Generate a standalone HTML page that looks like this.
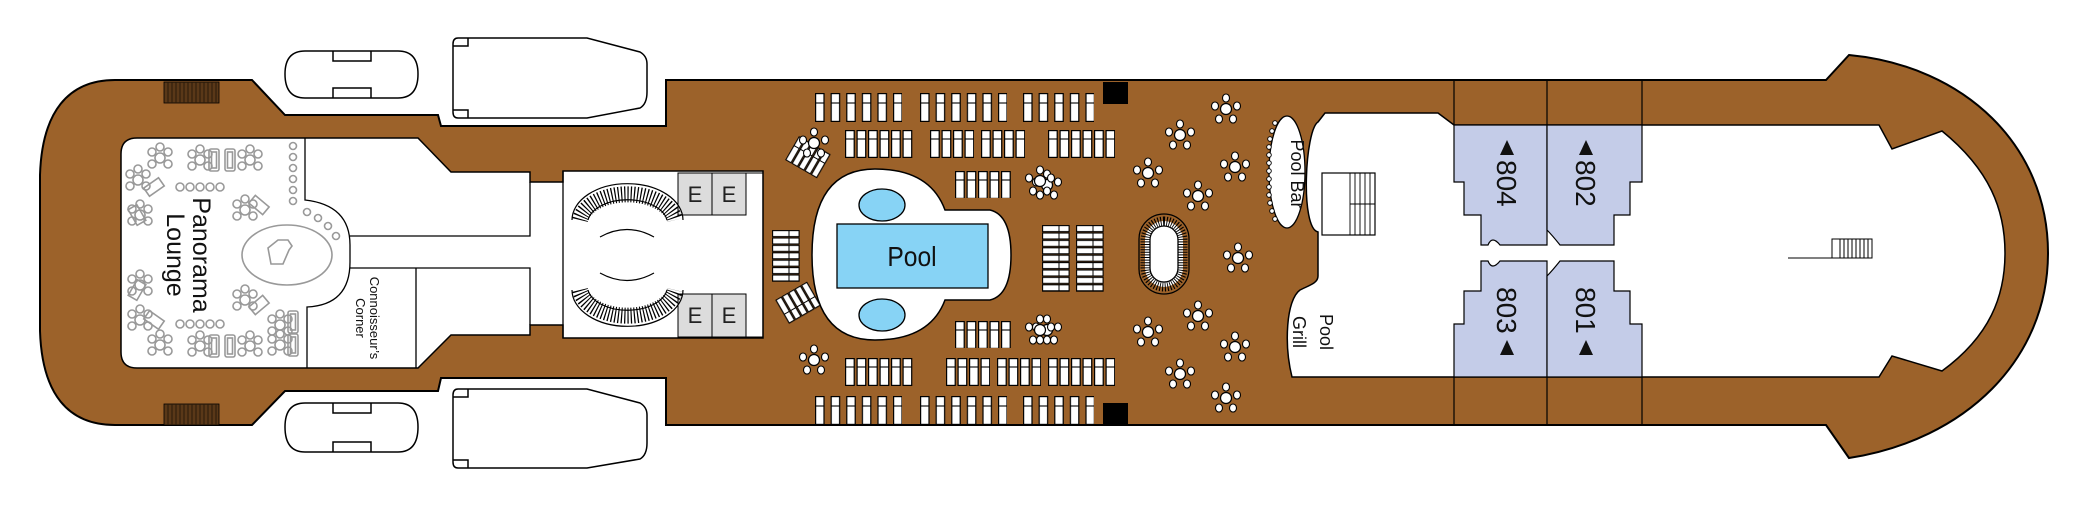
<!DOCTYPE html>
<html><head><meta charset="utf-8"><style>
html,body{margin:0;padding:0;background:#fff}
svg{display:block}
text{font-family:"Liberation Sans",sans-serif}
</style></head><body>
<svg width="2078" height="515" viewBox="0 0 2078 515" xmlns="http://www.w3.org/2000/svg">
<defs>
<pattern id="L1" patternUnits="userSpaceOnUse" width="15.6" height="29" x="0" y="0">
<rect x="0.6" y="0.6" width="8.4" height="27.8" fill="#fff" stroke="#000" stroke-width="1.2"/>
<line x1="0.6" y1="10" x2="9" y2="10" stroke="#000" stroke-width="1.1"/>
</pattern>
<pattern id="L2" patternUnits="userSpaceOnUse" width="11.5" height="28" x="0" y="0">
<rect x="0.6" y="0.6" width="8.6" height="26.8" fill="#fff" stroke="#000" stroke-width="1.2"/>
<line x1="0.6" y1="9" x2="9.2" y2="9" stroke="#000" stroke-width="1.1"/>
</pattern>
<pattern id="LH" patternUnits="userSpaceOnUse" width="28" height="7.4" x="0" y="0">
<rect x="0.6" y="0.6" width="26.5" height="6" fill="#fff" stroke="#000" stroke-width="1.1"/>
<line x1="17" y1="0.6" x2="17" y2="6.6" stroke="#000" stroke-width="1"/>
</pattern>
<g id="tb">
<circle cx="0" cy="0" r="5.5" fill="#fff" stroke="#000" stroke-width="1.2"/>
<ellipse cx="0" cy="-11" rx="3.5" ry="4" fill="#fff" stroke="#000" stroke-width="1.1"/>
<ellipse cx="11" cy="-3" rx="3.5" ry="4" fill="#fff" stroke="#000" stroke-width="1.1"/>
<ellipse cx="7" cy="10" rx="3.5" ry="4" fill="#fff" stroke="#000" stroke-width="1.1"/>
<ellipse cx="-7" cy="10" rx="3.5" ry="4" fill="#fff" stroke="#000" stroke-width="1.1"/>
<ellipse cx="-11" cy="-3" rx="3.5" ry="4" fill="#fff" stroke="#000" stroke-width="1.1"/>
</g>
<g id="gc" fill="none" stroke="#999" stroke-width="1.6">
<circle cx="0" cy="0" r="5"/><circle cx="-8" cy="-6" r="4"/><circle cx="8" cy="-6" r="4"/><circle cx="-8" cy="6" r="4"/><circle cx="8" cy="6" r="4"/><circle cx="0" cy="-11" r="4"/>
</g>
<g id="gs" fill="none" stroke="#999" stroke-width="1.6">
<rect x="-5" y="-11" width="10" height="22" rx="2"/><rect x="-2.5" y="-8" width="5" height="16"/>
</g>
</defs>

<!-- lifeboats -->
<g fill="#fff" stroke="#000" stroke-width="1.5">
<path d="M305,51 L398,51 Q418,51 418,74 Q418,98 398,98 L305,98 Q285,98 285,74 Q285,51 305,51 Z"/>
<path d="M333,51 v10 h38 v-10 M333,98 v-10 h38 v10" fill="none"/>
<path d="M305,403 L398,403 Q418,403 418,427 Q418,452 398,452 L305,452 Q285,452 285,427 Q285,403 305,403 Z"/>
<path d="M333,403 v10 h38 v-10 M333,452 v-10 h38 v10" fill="none"/>
<path d="M458,38 L587,38 L640,52 Q647,56 647,64 L647,92 Q647,104 640,108 L587,118 L458,118 Q453,118 453,112 L453,44 Q453,38 458,38 Z"/>
<path d="M453,46 h15 v-8 M453,110 h15 v8" fill="none"/>
<path d="M458,389 L587,389 L640,403 Q647,407 647,415 L647,443 Q647,455 640,459 L587,468 L458,468 Q453,468 453,462 L453,395 Q453,389 458,389 Z"/>
<path d="M453,397 h15 v-8 M453,460 h15 v8" fill="none"/>
</g>

<!-- hull -->
<path d="M252,80 L115,80 C68,80 42,112 40,175 L40,331 C42,394 68,425 115,425 L252,425 L285,391 L438,391 L441,378 L666,378 L666,425 L1826,425 L1849,458 C1965,440 2048,360 2048,253 C2048,146 1965,66 1849,55 L1826,80 L666,80 L666,126 L441,126 L438,115 L285,115 Z" fill="#9c622a" stroke="#000" stroke-width="2"/>

<!-- stern grates -->
<g fill="#5a3818" stroke="#000" stroke-width="0.8">
<rect x="164" y="82" width="55" height="21"/><rect x="164" y="404" width="55" height="21"/>
</g>
<g stroke="#2a1a0a" stroke-width="1">
<path d="M168,82v21M172,82v21M176,82v21M180,82v21M184,82v21M188,82v21M192,82v21M196,82v21M200,82v21M204,82v21M208,82v21M212,82v21M216,82v21"/>
<path d="M168,404v21M172,404v21M176,404v21M180,404v21M184,404v21M188,404v21M192,404v21M196,404v21M200,404v21M204,404v21M208,404v21M212,404v21M216,404v21"/>
</g>

<!-- black squares -->
<rect x="1103" y="82" width="25" height="22" fill="#000"/>
<rect x="1103" y="403" width="25" height="22" fill="#000"/>

<!-- stern interior -->
<path d="M137,138 L418,138 L451,172 L530,172 L530,182 L563,182 L563,171 L763,171 L763,338 L563,338 L563,325 L530,325 L530,335 L451,335 L418,368 L137,368 Q121,368 121,352 L121,154 Q121,138 137,138 Z" fill="#fff" stroke="#000" stroke-width="1.5"/>
<path d="M305,138 L305,200 Q350,205 350,245 L350,262 Q350,305 307,307 L307,368 M350,236 L530,236 L530,182 M350,268 L530,268 L530,325 M416,268 L416,368 M563,171 L563,338" fill="none" stroke="#000" stroke-width="1.3"/>

<!-- lounge furniture -->
<g>
<use href="#gc" x="160" y="158"/><use href="#gc" x="200" y="160"/><use href="#gs" x="214" y="160"/><use href="#gs" x="230" y="160"/><use href="#gc" x="250" y="160"/>
<use href="#gc" x="138" y="180"/><use href="#gc" x="140" y="215"/><use href="#gc" x="140" y="285"/><use href="#gc" x="140" y="320"/>
<use href="#gc" x="160" y="345"/><use href="#gc" x="200" y="346"/><use href="#gs" x="214" y="346"/><use href="#gs" x="230" y="346"/><use href="#gc" x="250" y="346"/>
<use href="#gc" x="245" y="210"/><use href="#gc" x="245" y="300"/><use href="#gc" x="280" y="325"/><use href="#gc" x="280" y="345"/>
<use href="#gs" x="293" y="322"/><use href="#gs" x="293" y="345"/>
</g>
<g fill="none" stroke="#999" stroke-width="1.6">
<circle cx="180" cy="187" r="4"/><circle cx="190" cy="187" r="4"/><circle cx="200" cy="187" r="4"/><circle cx="210" cy="187" r="4"/><circle cx="220" cy="187" r="4"/>
<circle cx="180" cy="324" r="4"/><circle cx="190" cy="324" r="4"/><circle cx="200" cy="324" r="4"/><circle cx="210" cy="324" r="4"/><circle cx="220" cy="324" r="4"/>
<rect x="145" y="182" width="18" height="10" transform="rotate(-35 154 187)"/>
<rect x="128" y="210" width="18" height="10" transform="rotate(60 137 215)"/>
<rect x="128" y="285" width="18" height="10" transform="rotate(-60 137 290)"/>
<rect x="145" y="315" width="18" height="10" transform="rotate(35 154 320)"/>
<rect x="250" y="200" width="18" height="10" transform="rotate(40 259 205)"/>
<rect x="250" y="300" width="18" height="10" transform="rotate(-40 259 305)"/>
<ellipse cx="287" cy="255" rx="45" ry="30"/>
<path d="M268,248 l10,-8 h10 l4,6 l-3,4 l-6,14 h-12 z"/>
<circle cx="293" cy="146" r="3.5"/><circle cx="293" cy="157" r="3.5"/><circle cx="293" cy="168" r="3.5"/><circle cx="293" cy="179" r="3.5"/><circle cx="293" cy="190" r="3.5"/><circle cx="293" cy="201" r="3.5"/>
<circle cx="307" cy="212" r="3.5"/><circle cx="318" cy="218" r="3.5"/><circle cx="328" cy="226" r="3.5"/><circle cx="336" cy="236" r="3.5"/>
</g>

<!-- E section -->
<rect x="678" y="173" width="34" height="42" fill="#dcdcdc" stroke="#000" stroke-width="1"/>
<rect x="712" y="173" width="34" height="42" fill="#dcdcdc" stroke="#000" stroke-width="1"/>
<rect x="678" y="294" width="34" height="43" fill="#dcdcdc" stroke="#000" stroke-width="1"/>
<rect x="712" y="294" width="34" height="43" fill="#dcdcdc" stroke="#000" stroke-width="1"/>
<line x1="746" y1="173" x2="763" y2="173" stroke="#000"/><line x1="746" y1="337" x2="763" y2="337" stroke="#000"/>
<g font-size="22" text-anchor="middle" fill="#222">
<text x="695" y="202">E</text><text x="729" y="202">E</text><text x="695" y="323">E</text><text x="729" y="323">E</text>
</g>
<!-- staircases -->
<g fill="none" stroke="#000">
<path d="M580,220 A48,30 0 0 1 675,220" stroke-width="16" stroke-dasharray="1.2 2"/>
<path d="M572,220 A55,36 0 0 1 683,220 M588,220 A40,24 0 0 1 667,220" stroke-width="1.2"/>
<path d="M600,237 Q627,222 654,237" stroke-width="1.2"/>
<path d="M580,290 A48,30 0 0 0 675,290" stroke-width="16" stroke-dasharray="1.2 2"/>
<path d="M572,290 A55,36 0 0 0 683,290 M588,290 A40,24 0 0 0 667,290" stroke-width="1.2"/>
<path d="M600,273 Q627,288 654,273" stroke-width="1.2"/>
</g>

<!-- pool area -->
<path d="M875,169 Q930,169 945,210 L990,210 Q1011,215 1011,255 Q1011,295 990,300 L945,300 Q930,340 875,340 Q812,340 812,255 Q812,169 875,169 Z" fill="#fff" stroke="#000" stroke-width="1.5"/>
<rect x="837" y="224" width="151" height="64" fill="#87d3f5" stroke="#000" stroke-width="1.3"/>
<ellipse cx="882" cy="205" rx="23" ry="16" fill="#87d3f5" stroke="#000" stroke-width="1.3"/>
<ellipse cx="882" cy="315" rx="23" ry="16" fill="#87d3f5" stroke="#000" stroke-width="1.3"/>
<text x="912" y="266" font-size="28" text-anchor="middle" fill="#111" transform="translate(912 0) scale(0.88 1) translate(-912 0)">Pool</text>

<!-- loungers top -->
<g transform="translate(815,93)"><rect width="87" height="29" fill="url(#L1)"/></g>
<g transform="translate(920,93)"><rect width="87" height="29" fill="url(#L1)"/></g>
<g transform="translate(1023,93)"><rect width="71" height="29" fill="url(#L1)"/></g>
<g transform="translate(845,130)"><rect width="68" height="28" fill="url(#L2)"/></g>
<g transform="translate(930,130)"><rect width="44" height="28" fill="url(#L2)"/></g>
<g transform="translate(981,130)"><rect width="44" height="28" fill="url(#L2)"/></g>
<g transform="translate(1048,130)"><rect width="67" height="28" fill="url(#L2)"/></g>
<g transform="translate(955,171)"><rect width="56" height="27" fill="url(#L2)"/></g>
<!-- loungers bottom -->
<g transform="translate(815,396)"><rect width="87" height="29" fill="url(#L1)"/></g>
<g transform="translate(920,396)"><rect width="87" height="29" fill="url(#L1)"/></g>
<g transform="translate(1023,396)"><rect width="71" height="29" fill="url(#L1)"/></g>
<g transform="translate(845,358)"><rect width="68" height="28" fill="url(#L2)"/></g>
<g transform="translate(946,358)"><rect width="44" height="28" fill="url(#L2)"/></g>
<g transform="translate(997,358)"><rect width="44" height="28" fill="url(#L2)"/></g>
<g transform="translate(1048,358)"><rect width="67" height="28" fill="url(#L2)"/></g>
<g transform="translate(955,321)"><rect width="56" height="27" fill="url(#L2)"/></g>
<!-- horizontal loungers -->
<g transform="translate(1042,225)"><rect width="28" height="67" fill="url(#LH)"/></g>
<g transform="translate(1076,225)"><rect width="28" height="67" fill="url(#LH)"/></g>
<g transform="translate(772,230)"><rect width="28" height="52" fill="url(#LH)"/></g>
<g transform="translate(785,160) rotate(-60)"><rect width="28" height="37" fill="url(#LH)"/></g>
<g transform="translate(775,300) rotate(60) translate(0,-37)"><rect width="28" height="37" fill="url(#LH)"/></g>

<!-- tables -->
<use href="#tb" x="814" y="143"/><use href="#tb" x="814" y="360"/>
<use href="#tb" x="1047" y="185"/><use href="#tb" x="1047" y="330"/>
<use href="#tb" x="1226" y="109"/><use href="#tb" x="1180" y="135"/><use href="#tb" x="1235" y="167"/><use href="#tb" x="1148" y="173"/><use href="#tb" x="1198" y="196"/><use href="#tb" x="1238" y="258"/>
<use href="#tb" x="1198" y="316"/><use href="#tb" x="1148" y="332"/><use href="#tb" x="1235" y="347"/><use href="#tb" x="1180" y="374"/><use href="#tb" x="1226" y="398"/>
<use href="#tb" x="1040" y="181"/><use href="#tb" x="1040" y="330"/>

<!-- spiral staircase -->
<g fill="none" stroke="#000">
<rect x="1145" y="221" width="38" height="66" rx="19" fill="#fff" stroke-width="9" stroke-dasharray="1 1.6"/>
<rect x="1139" y="214" width="50" height="80" rx="25" stroke-width="1.3"/>
<rect x="1150" y="226" width="28" height="56" rx="14" stroke-width="1.3" fill="#fff"/>
</g>

<!-- forward white area -->
<path d="M1325,113 L1438,113 L1454,125 L1879,125 L1892,149 L1942,131 C1990,170 2005,210 2005,253 C2005,296 1990,336 1942,371 L1892,356 L1879,377 L1292,377 C1284,345 1286,300 1300,290 C1310,285 1318,283 1318,276 L1318,232 C1300,228 1305,130 1318,122 Z" fill="#fff" stroke="#000" stroke-width="1.5"/>
<ellipse cx="1287" cy="172" rx="18" ry="56" fill="#fff" stroke="#000" stroke-width="1.3"/>
<g fill="#fff" stroke="#000" stroke-width="0.9">
<circle cx="1275" cy="123" r="2.3"/><circle cx="1272" cy="131" r="2.3"/><circle cx="1270" cy="139" r="2.3"/><circle cx="1269" cy="147" r="2.3"/><circle cx="1269" cy="155" r="2.3"/><circle cx="1269" cy="163" r="2.3"/><circle cx="1269" cy="171" r="2.3"/><circle cx="1269" cy="179" r="2.3"/><circle cx="1269" cy="187" r="2.3"/><circle cx="1269" cy="195" r="2.3"/><circle cx="1270" cy="203" r="2.3"/><circle cx="1272" cy="211" r="2.3"/><circle cx="1275" cy="219" r="2.3"/>
</g>
<rect x="1322" y="173" width="53" height="62" fill="#fff" stroke="#000" stroke-width="1.2"/>
<path d="M1350,173v62M1355,173v62M1360,173v62M1365,173v62M1370,173v62M1350,204h25" stroke="#000" stroke-width="0.9"/>
<rect x="1832" y="239" width="40" height="19" fill="#fff" stroke="#000" stroke-width="1"/>
<path d="M1788,258h44M1840,239v19M1844,239v19M1848,239v19M1852,239v19M1856,239v19M1860,239v19M1864,239v19M1868,239v19" stroke="#000" stroke-width="1"/>

<!-- cabins -->
<path d="M1454,125 L1547,125 L1547,245 L1500,245 Q1492,235 1488,245 L1481,245 L1481,215 L1464,215 L1464,182 L1454,182 Z" fill="#c4cce8" stroke="#000" stroke-width="1.2"/>
<path d="M1547,125 L1642,125 L1642,182 L1630,182 L1630,215 L1614,215 L1614,245 L1560,245 Q1552,235 1547,230 Z" fill="#c4cce8" stroke="#000" stroke-width="1.2"/>
<path d="M1454,377 L1547,377 L1547,261 L1500,261 Q1492,271 1488,261 L1481,261 L1481,291 L1464,291 L1464,324 L1454,324 Z" fill="#c4cce8" stroke="#000" stroke-width="1.2"/>
<path d="M1547,377 L1642,377 L1642,324 L1630,324 L1630,291 L1614,291 L1614,261 L1560,261 Q1552,271 1547,276 Z" fill="#c4cce8" stroke="#000" stroke-width="1.2"/>
<path d="M1454,80v45M1547,80v45M1642,80v45M1454,377v48M1547,377v48M1642,377v48" stroke="#000" stroke-width="1.2"/>

<g fill="#111">
<polygon points="1507,140 1500,155 1514,155"/>
<polygon points="1586,140 1579,155 1593,155"/>
<polygon points="1507,340 1500,355 1514,355"/>
<polygon points="1586,340 1579,355 1593,355"/>
</g>
<g font-size="28" fill="#111">
<text transform="translate(1497 160) rotate(90)">804</text>
<text transform="translate(1576 160) rotate(90)">802</text>
<text transform="translate(1497 287) rotate(90)">803</text>
<text transform="translate(1576 287) rotate(90)">801</text>
</g>

<!-- labels -->
<g fill="#111" text-anchor="middle">
<text font-size="25" transform="translate(193 255) rotate(90)">Panorama</text>
<text font-size="25" transform="translate(167 255) rotate(90)">Lounge</text>
<text font-size="13" transform="translate(370 318) rotate(90)">Connoisseur’s</text>
<text font-size="13" transform="translate(356 318) rotate(90)">Corner</text>
<text font-size="18" transform="translate(1291 174) rotate(90)">Pool Bar</text>
<text font-size="18" transform="translate(1320 332) rotate(90)">Pool</text>
<text font-size="18" transform="translate(1293 332) rotate(90)">Grill</text>
</g>
</svg>
</body></html>
